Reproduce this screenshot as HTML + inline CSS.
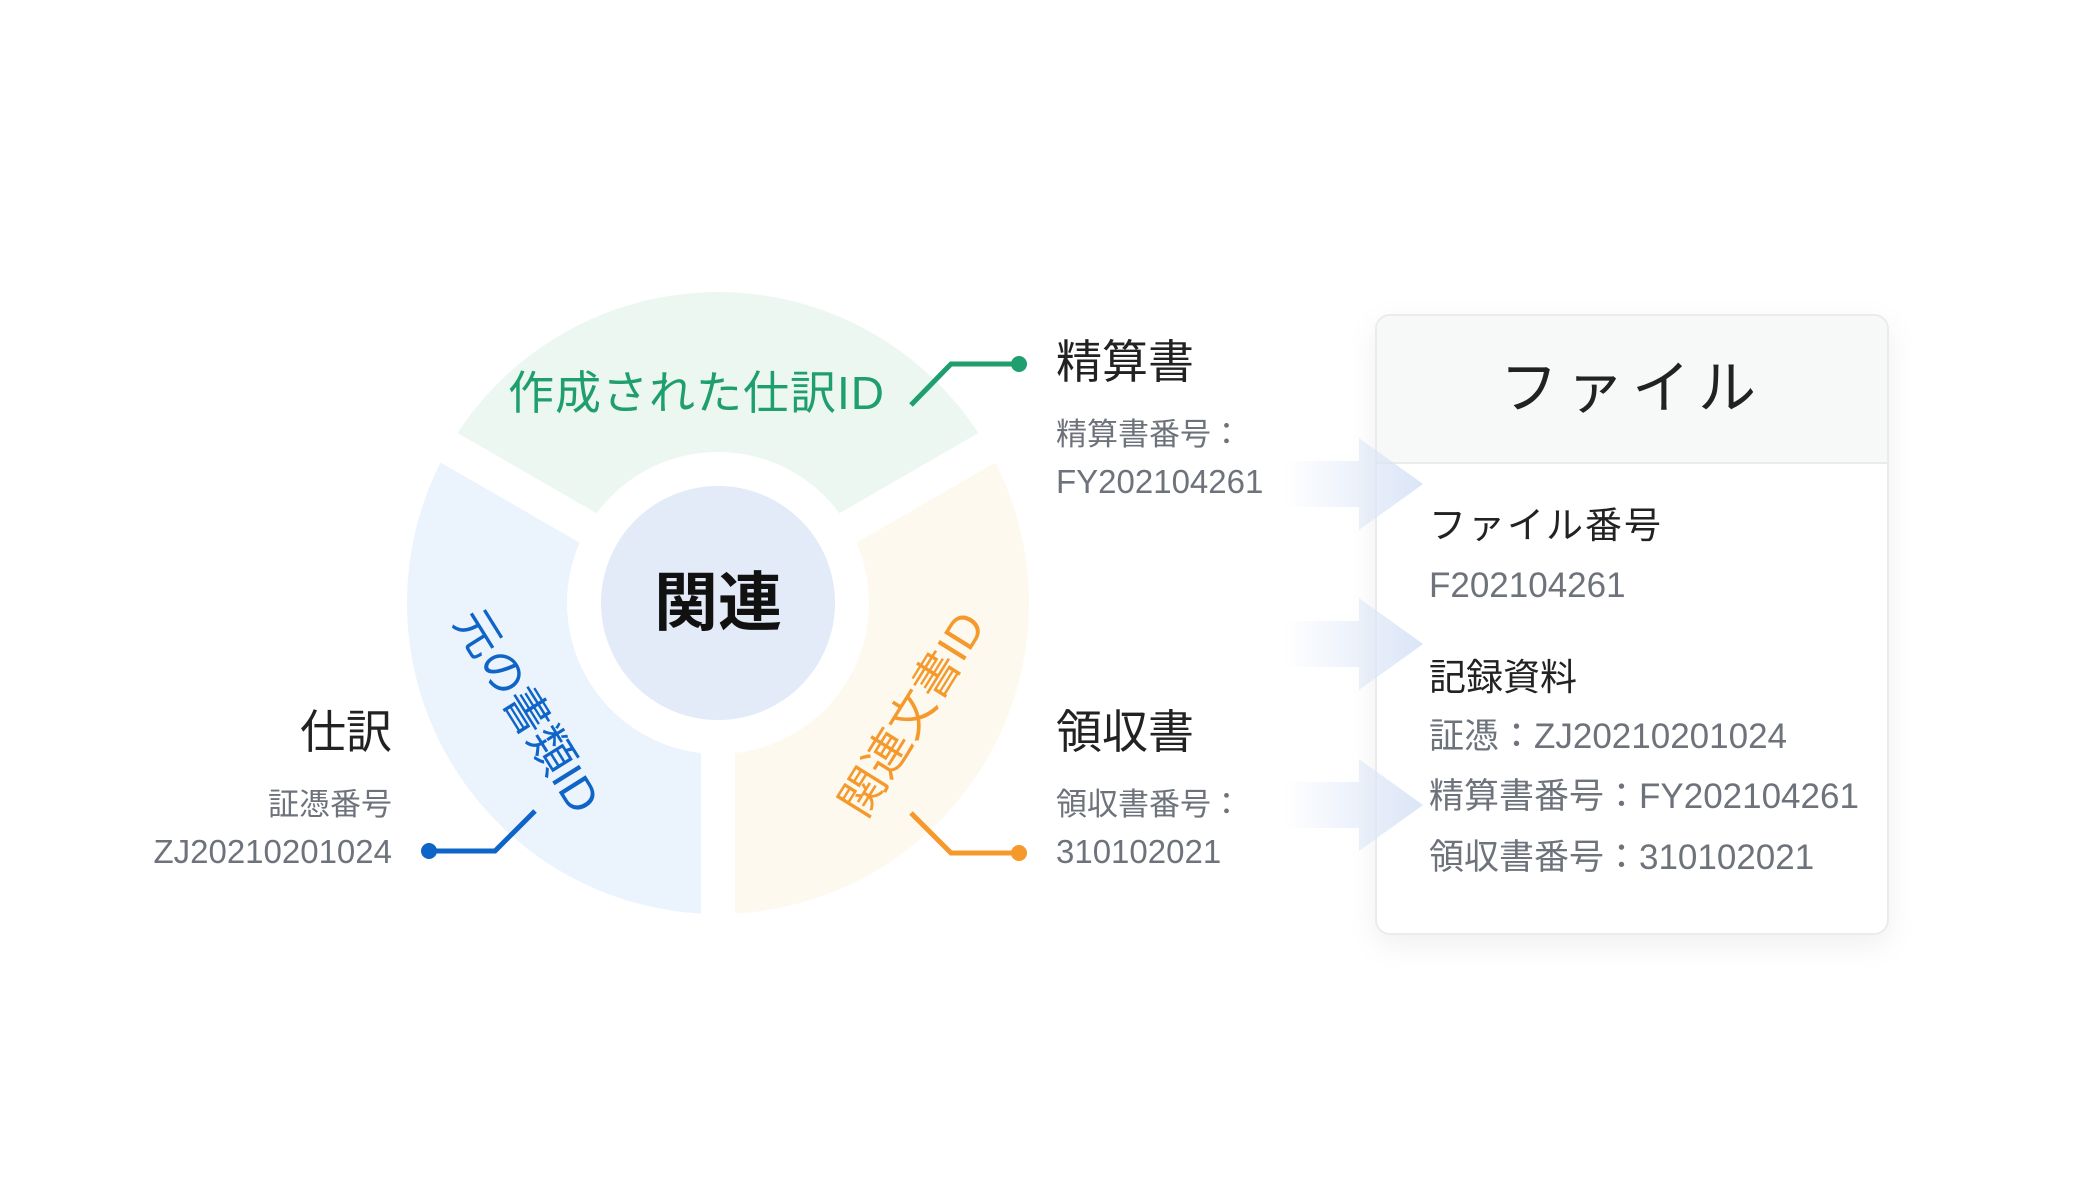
<!DOCTYPE html>
<html><head><meta charset="utf-8"><style>
html,body{margin:0;padding:0;background:#fff;}
svg{display:block;font-family:"Liberation Sans","Noto Sans CJK JP",sans-serif;}
</style></head><body>
<svg width="2100" height="1200" viewBox="0 0 2100 1200" xmlns="http://www.w3.org/2000/svg">
<defs>
<linearGradient id="ag" x1="0" y1="0" x2="1" y2="0">
<stop offset="0" stop-color="#dbe5f7" stop-opacity="0"/>
<stop offset="1" stop-color="#dbe5f7" stop-opacity="1"/>
</linearGradient>
<filter id="sh" x="-10%" y="-10%" width="120%" height="125%">
<feDropShadow dx="0" dy="10" stdDeviation="14" flood-color="#000" flood-opacity="0.06"/>
</filter>
</defs>
<!-- donut -->
<g transform="translate(718,603)">
<path d="M0 0 L-269.3 -155.5 A311 311 0 0 1 269.3 -155.5 Z" fill="#ecf7f2"/>
<path d="M0 0 L269.3 -155.5 A311 311 0 0 1 0 311 Z" fill="#fdf9ef"/>
<path d="M0 0 L0 311 A311 311 0 0 1 -269.3 -155.5 Z" fill="#ebf3fd"/>
<line x1="0" y1="0" x2="0" y2="330" stroke="#fff" stroke-width="34"/>
<line x1="0" y1="0" x2="285.8" y2="-165" stroke="#fff" stroke-width="34"/>
<line x1="0" y1="0" x2="-285.8" y2="-165" stroke="#fff" stroke-width="34"/>
<circle r="151" fill="#fff"/>
<circle r="117" fill="#e3eaf8"/>
<text x="0" y="22" text-anchor="middle" font-size="64" font-weight="bold" fill="#111">関連</text>
</g>
<text x="508" y="409" font-size="46" fill="#1f9e6e" letter-spacing="1">作成された仕訳ID</text>
<text transform="translate(527,711) rotate(58)" text-anchor="middle" y="16" font-size="46" fill="#0f64c8">元の書類ID</text>
<text transform="translate(912,714) rotate(-58)" text-anchor="middle" y="16" font-size="46" fill="#f5992c">関連文書ID</text>
<!-- connectors -->
<polyline points="911,405 951,364 1019,364" fill="none" stroke="#1f9e6e" stroke-width="5"/>
<circle cx="1019" cy="364" r="8" fill="#1f9e6e"/>
<polyline points="911,813 951,853 1019,853" fill="none" stroke="#f5992c" stroke-width="5"/>
<circle cx="1019" cy="853" r="8" fill="#f5992c"/>
<polyline points="535,811 495,851 429,851" fill="none" stroke="#0f64c8" stroke-width="5"/>
<circle cx="429" cy="851" r="8" fill="#0f64c8"/>
<!-- side labels -->
<text x="1056" y="378" font-size="46" fill="#222">精算書</text>
<text x="1056" y="445" font-size="31" fill="#6e737b">精算書番号：</text>
<text x="1056" y="493" font-size="33" fill="#6e737b">FY202104261</text>
<text x="1056" y="748" font-size="46" fill="#222">領収書</text>
<text x="1056" y="815" font-size="31" fill="#6e737b">領収書番号：</text>
<text x="1056" y="863" font-size="33" fill="#6e737b">310102021</text>
<text x="392" y="748" font-size="46" fill="#222" text-anchor="end">仕訳</text>
<text x="392" y="815" font-size="31" fill="#6e737b" text-anchor="end">証憑番号</text>
<text x="392" y="863" font-size="33" fill="#6e737b" text-anchor="end">ZJ20210201024</text>
<!-- box -->
<g filter="url(#sh)">
<rect x="1376" y="315" width="512" height="619" rx="14" fill="#fff" stroke="#e9ebec" stroke-width="2"/>
</g>
<path d="M1377 462 V329 A13 13 0 0 1 1390 316 H1874 A13 13 0 0 1 1887 329 V462 Z" fill="#f7f8f8"/>
<line x1="1377" y1="463" x2="1887" y2="463" stroke="#e9ebec" stroke-width="2"/>
<!-- arrows -->
<g fill="url(#ag)">
<path d="M1284 461 H1359 V438 L1423 484 L1359 530 V507 H1284 Z"/>
<path d="M1284 621 H1359 V598 L1423 644 L1359 690 V667 H1284 Z"/>
<path d="M1284 782 H1359 V759 L1423 805 L1359 851 V828 H1284 Z"/>
</g>
<text x="1632" y="408" font-size="58" fill="#222" text-anchor="middle" letter-spacing="8">ファイル</text>
<text x="1429" y="538" font-size="37" fill="#222" letter-spacing="2">ファイル番号</text>
<text x="1429" y="597" font-size="35" fill="#6e737b">F202104261</text>
<text x="1429" y="690" font-size="37" fill="#222">記録資料</text>
<text x="1429" y="748" font-size="35" fill="#6e737b">証憑：ZJ20210201024</text>
<text x="1429" y="808" font-size="35" fill="#6e737b">精算書番号：FY202104261</text>
<text x="1429" y="869" font-size="35" fill="#6e737b">領収書番号：310102021</text>
</svg>
</body></html>
